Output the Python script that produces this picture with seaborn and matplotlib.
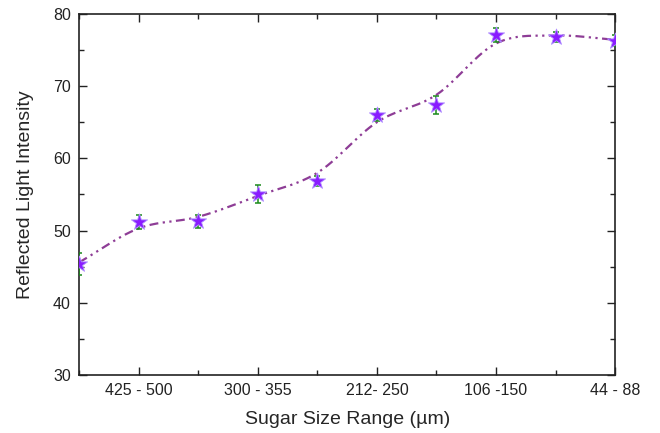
import numpy as np
import pandas as pd
import matplotlib
matplotlib.use('Agg')
import matplotlib.pyplot as plt
import seaborn as sns
from matplotlib.ticker import MultipleLocator

# Data
positions = [0, 1, 2, 3, 4, 5, 6, 7, 8, 9]
intensity = [45.4, 51.2, 51.3, 55.1, 56.9, 66.0, 67.4, 77.1, 76.8, 76.3]
errors = [1.5, 1.0, 0.9, 1.25, 0.7, 0.8, 1.2, 1.0, 0.7, 0.8]
fit_values = [45.6, 50.3, 51.9, 54.8, 58.0, 65.0, 68.8, 75.9, 77.0, 76.4]
tick_pos = [1, 3, 5, 7, 9]
tick_labels = ['425 - 500', '300 - 355', '212- 250', '106 -150', '44 - 88']


def catmull_rom(x, y, n=30):
    # smooth curve through the fit values
    x = np.asarray(x, float)
    y = np.asarray(y, float)
    xp = np.concatenate([[2 * x[0] - x[1]], x, [2 * x[-1] - x[-2]]])
    yp = np.concatenate([[2 * y[0] - y[1]], y, [2 * y[-1] - y[-2]]])
    xs, ys = [], []
    for i in range(1, len(xp) - 2):
        t = np.linspace(0, 1, n, endpoint=False)
        for arr, out in ((xp, xs), (yp, ys)):
            p0, p1, p2, p3 = arr[i - 1], arr[i], arr[i + 1], arr[i + 2]
            out.extend(0.5 * (2 * p1 + (-p0 + p2) * t
                              + (2 * p0 - 5 * p1 + 4 * p2 - p3) * t ** 2
                              + (-p0 + 3 * p1 - 3 * p2 + p3) * t ** 3))
    xs.append(x[-1])
    ys.append(y[-1])
    return np.array(xs), np.array(ys)


sns.set_style('ticks')
plt.rcParams['font.family'] = ['Liberation Sans', 'DejaVu Sans']

fig = plt.figure(figsize=(6.6, 4.33), dpi=100)
ax = fig.add_axes([0.12, 0.134, 0.812, 0.834])

cx, cy = catmull_rom(positions, fit_values)
curve = pd.DataFrame({'x': cx, 'y': cy})
sns.lineplot(data=curve, x='x', y='y', ax=ax, color='#8e3d96', lw=1.6,
             dashes=False, zorder=2)
ax.lines[-1].set_dashes([4, 2, 1, 2, 1, 2])

ax.errorbar(positions, intensity, yerr=errors, fmt='none', ecolor='#1a8a1a',
            elinewidth=1.1, capsize=2.5, capthick=1.1, zorder=3)

pts = pd.DataFrame({'x': positions, 'y': intensity})
sns.scatterplot(data=pts, x='x', y='y', ax=ax, marker='*', s=150,
                color='#8a1cff', edgecolor='#b090ff', linewidth=0.6, zorder=4)

ax.set_xlim(0, 9)
ax.set_ylim(30, 80)
ax.set_xticks(tick_pos)
ax.set_xticklabels(tick_labels)
ax.xaxis.set_minor_locator(MultipleLocator(1))
ax.yaxis.set_major_locator(MultipleLocator(10))
ax.yaxis.set_minor_locator(MultipleLocator(5))
ax.tick_params(which='both', direction='in', top=True, right=True,
               labelsize=11.5, width=1.0, colors='#222222')
ax.tick_params(which='major', length=6, pad=6)
ax.tick_params(which='minor', length=3.5)
for s in ax.spines.values():
    s.set_linewidth(1.2)
    s.set_color('#222222')

ax.set_xlabel('Sugar Size Range (µm)', fontsize=14, labelpad=9)
ax.set_ylabel('Reflected Light Intensity', fontsize=14, labelpad=14)

fig.savefig('out.png', dpi=100)
